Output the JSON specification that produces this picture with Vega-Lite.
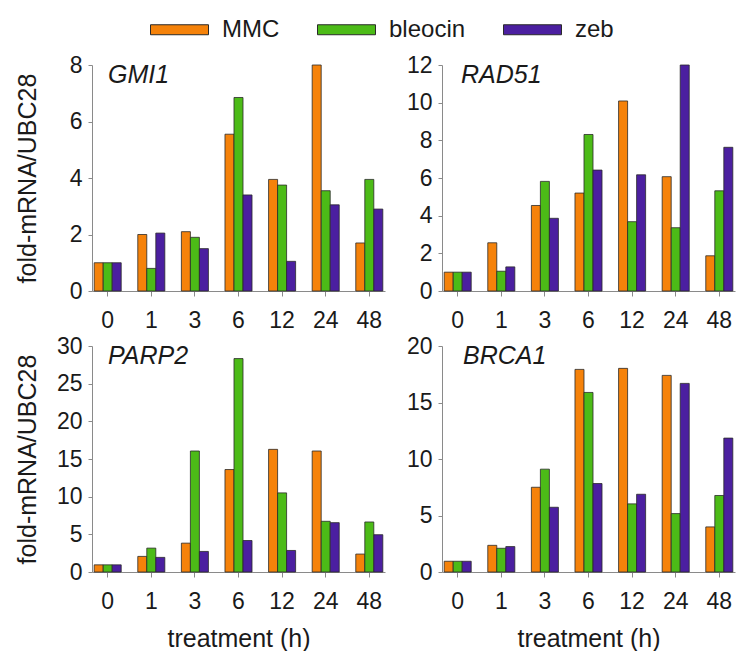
{
  "$schema": "https://vega.github.io/schema/vega-lite/v6.json",
  "background": "white",
  "padding": {"left": 15, "top": 0, "right": 5, "bottom": 0},
  "config": {
    "view": {"stroke": null},
    "font": "Liberation Sans",
    "axis": {
      "grid": false,
      "domainColor": "#8a8a8a",
      "tickColor": "#8a8a8a",
      "labelColor": "#1a1a1a",
      "titleColor": "#1a1a1a",
      "labelFontSize": 23,
      "titleFontSize": 25,
      "titleFontWeight": "normal",
      "labelFont": "Liberation Sans",
      "titleFont": "Liberation Sans"
    },
    "axisX": {"tickSize": 5, "labelPadding": 13, "labelAngle": 0, "titlePadding": 13},
    "axisY": {"tickSize": 4, "labelPadding": 6},
    "title": {"font": "Liberation Sans"}
  },
  "datasets": {
    "expr": [
      {"gene": "GMI1", "time": "0", "treatment": "MMC", "value": 1.0},
      {"gene": "GMI1", "time": "0", "treatment": "bleocin", "value": 1.0},
      {"gene": "GMI1", "time": "0", "treatment": "zeb", "value": 1.0},
      {"gene": "GMI1", "time": "1", "treatment": "MMC", "value": 2.0},
      {"gene": "GMI1", "time": "1", "treatment": "bleocin", "value": 0.8},
      {"gene": "GMI1", "time": "1", "treatment": "zeb", "value": 2.05},
      {"gene": "GMI1", "time": "3", "treatment": "MMC", "value": 2.1},
      {"gene": "GMI1", "time": "3", "treatment": "bleocin", "value": 1.9},
      {"gene": "GMI1", "time": "3", "treatment": "zeb", "value": 1.5},
      {"gene": "GMI1", "time": "6", "treatment": "MMC", "value": 5.55},
      {"gene": "GMI1", "time": "6", "treatment": "bleocin", "value": 6.85},
      {"gene": "GMI1", "time": "6", "treatment": "zeb", "value": 3.4},
      {"gene": "GMI1", "time": "12", "treatment": "MMC", "value": 3.95},
      {"gene": "GMI1", "time": "12", "treatment": "bleocin", "value": 3.75},
      {"gene": "GMI1", "time": "12", "treatment": "zeb", "value": 1.05},
      {"gene": "GMI1", "time": "24", "treatment": "MMC", "value": 8.0},
      {"gene": "GMI1", "time": "24", "treatment": "bleocin", "value": 3.55},
      {"gene": "GMI1", "time": "24", "treatment": "zeb", "value": 3.05},
      {"gene": "GMI1", "time": "48", "treatment": "MMC", "value": 1.7},
      {"gene": "GMI1", "time": "48", "treatment": "bleocin", "value": 3.95},
      {"gene": "GMI1", "time": "48", "treatment": "zeb", "value": 2.9},
      {"gene": "RAD51", "time": "0", "treatment": "MMC", "value": 1.0},
      {"gene": "RAD51", "time": "0", "treatment": "bleocin", "value": 1.0},
      {"gene": "RAD51", "time": "0", "treatment": "zeb", "value": 1.0},
      {"gene": "RAD51", "time": "1", "treatment": "MMC", "value": 2.56},
      {"gene": "RAD51", "time": "1", "treatment": "bleocin", "value": 1.05},
      {"gene": "RAD51", "time": "1", "treatment": "zeb", "value": 1.28},
      {"gene": "RAD51", "time": "3", "treatment": "MMC", "value": 4.54},
      {"gene": "RAD51", "time": "3", "treatment": "bleocin", "value": 5.82},
      {"gene": "RAD51", "time": "3", "treatment": "zeb", "value": 3.86},
      {"gene": "RAD51", "time": "6", "treatment": "MMC", "value": 5.2},
      {"gene": "RAD51", "time": "6", "treatment": "bleocin", "value": 8.31},
      {"gene": "RAD51", "time": "6", "treatment": "zeb", "value": 6.42},
      {"gene": "RAD51", "time": "12", "treatment": "MMC", "value": 10.09},
      {"gene": "RAD51", "time": "12", "treatment": "bleocin", "value": 3.68},
      {"gene": "RAD51", "time": "12", "treatment": "zeb", "value": 6.17},
      {"gene": "RAD51", "time": "24", "treatment": "MMC", "value": 6.07},
      {"gene": "RAD51", "time": "24", "treatment": "bleocin", "value": 3.36},
      {"gene": "RAD51", "time": "24", "treatment": "zeb", "value": 12.0},
      {"gene": "RAD51", "time": "48", "treatment": "MMC", "value": 1.87},
      {"gene": "RAD51", "time": "48", "treatment": "bleocin", "value": 5.32},
      {"gene": "RAD51", "time": "48", "treatment": "zeb", "value": 7.63},
      {"gene": "PARP2", "time": "0", "treatment": "MMC", "value": 0.95},
      {"gene": "PARP2", "time": "0", "treatment": "bleocin", "value": 0.95},
      {"gene": "PARP2", "time": "0", "treatment": "zeb", "value": 0.95},
      {"gene": "PARP2", "time": "1", "treatment": "MMC", "value": 2.07},
      {"gene": "PARP2", "time": "1", "treatment": "bleocin", "value": 3.17},
      {"gene": "PARP2", "time": "1", "treatment": "zeb", "value": 1.94},
      {"gene": "PARP2", "time": "3", "treatment": "MMC", "value": 3.83},
      {"gene": "PARP2", "time": "3", "treatment": "bleocin", "value": 16.06},
      {"gene": "PARP2", "time": "3", "treatment": "zeb", "value": 2.73},
      {"gene": "PARP2", "time": "6", "treatment": "MMC", "value": 13.6},
      {"gene": "PARP2", "time": "6", "treatment": "bleocin", "value": 28.33},
      {"gene": "PARP2", "time": "6", "treatment": "zeb", "value": 4.18},
      {"gene": "PARP2", "time": "12", "treatment": "MMC", "value": 16.28},
      {"gene": "PARP2", "time": "12", "treatment": "bleocin", "value": 10.5},
      {"gene": "PARP2", "time": "12", "treatment": "zeb", "value": 2.86},
      {"gene": "PARP2", "time": "24", "treatment": "MMC", "value": 16.06},
      {"gene": "PARP2", "time": "24", "treatment": "bleocin", "value": 6.73},
      {"gene": "PARP2", "time": "24", "treatment": "zeb", "value": 6.55},
      {"gene": "PARP2", "time": "48", "treatment": "MMC", "value": 2.38},
      {"gene": "PARP2", "time": "48", "treatment": "bleocin", "value": 6.64},
      {"gene": "PARP2", "time": "48", "treatment": "zeb", "value": 4.95},
      {"gene": "BRCA1", "time": "0", "treatment": "MMC", "value": 0.95},
      {"gene": "BRCA1", "time": "0", "treatment": "bleocin", "value": 0.95},
      {"gene": "BRCA1", "time": "0", "treatment": "zeb", "value": 0.95},
      {"gene": "BRCA1", "time": "1", "treatment": "MMC", "value": 2.36},
      {"gene": "BRCA1", "time": "1", "treatment": "bleocin", "value": 2.1},
      {"gene": "BRCA1", "time": "1", "treatment": "zeb", "value": 2.25},
      {"gene": "BRCA1", "time": "3", "treatment": "MMC", "value": 7.5},
      {"gene": "BRCA1", "time": "3", "treatment": "bleocin", "value": 9.1},
      {"gene": "BRCA1", "time": "3", "treatment": "zeb", "value": 5.73},
      {"gene": "BRCA1", "time": "6", "treatment": "MMC", "value": 17.93},
      {"gene": "BRCA1", "time": "6", "treatment": "bleocin", "value": 15.89},
      {"gene": "BRCA1", "time": "6", "treatment": "zeb", "value": 7.83},
      {"gene": "BRCA1", "time": "12", "treatment": "MMC", "value": 18.02},
      {"gene": "BRCA1", "time": "12", "treatment": "bleocin", "value": 6.03},
      {"gene": "BRCA1", "time": "12", "treatment": "zeb", "value": 6.88},
      {"gene": "BRCA1", "time": "24", "treatment": "MMC", "value": 17.4},
      {"gene": "BRCA1", "time": "24", "treatment": "bleocin", "value": 5.17},
      {"gene": "BRCA1", "time": "24", "treatment": "zeb", "value": 16.69},
      {"gene": "BRCA1", "time": "48", "treatment": "MMC", "value": 3.99},
      {"gene": "BRCA1", "time": "48", "treatment": "bleocin", "value": 6.77},
      {"gene": "BRCA1", "time": "48", "treatment": "zeb", "value": 11.85}
    ]
  },
  "data": {"name": "expr"},
  "columns": 2,
  "spacing": {"row": 3, "column": 21},
  "concat": [
    {
      "width": 293, "height": 226,
      "title": {"text": "GMI1", "anchor": "start", "frame": "group", "fontStyle": "italic", "fontWeight": "normal", "fontSize": 25, "color": "#1a1a1a", "offset": -34, "dx": 16},
      "transform": [{"filter": "datum.gene === 'GMI1'"}],
      "mark": {"type": "bar", "stroke": "#2a2a2a", "strokeWidth": 0.8},
      "encoding": {
        "x": {"field": "time", "type": "ordinal", "sort": ["0", "1", "3", "6", "12", "24", "48"], "scale": {"paddingInner": 0.38, "paddingOuter": 0.05}, "axis": {"title": null}},
        "xOffset": {"field": "treatment", "sort": ["MMC", "bleocin", "zeb"]},
        "y": {"field": "value", "type": "quantitative", "scale": {"domain": [0, 8], "nice": false}, "axis": {"values": [0, 2, 4, 6, 8], "title": "fold-mRNA/UBC28", "titlePadding": 29}},
        "color": {"field": "treatment", "type": "nominal", "sort": ["MMC", "bleocin", "zeb"],
          "scale": {"domain": ["MMC", "bleocin", "zeb"], "range": ["#F5820A", "#4CBB17", "#4B1FA0"]},
          "legend": {"orient": "none", "legendX": 58, "legendY": -65, "direction": "horizontal", "title": null,
            "symbolType": "M-1,-0.172H1V0.172H-1Z", "symbolSize": 3364, "symbolStrokeColor": "#333", "symbolStrokeWidth": 1,
            "labelFontSize": 24, "labelFont": "Liberation Sans", "labelColor": "#1a1a1a", "labelOffset": 13, "columnPadding": 35}}
      }
    },
    {
      "width": 293, "height": 226,
      "title": {"text": "RAD51", "anchor": "start", "frame": "group", "fontStyle": "italic", "fontWeight": "normal", "fontSize": 25, "color": "#1a1a1a", "offset": -34, "dx": 19},
      "transform": [{"filter": "datum.gene === 'RAD51'"}],
      "mark": {"type": "bar", "stroke": "#2a2a2a", "strokeWidth": 0.8},
      "encoding": {
        "x": {"field": "time", "type": "ordinal", "sort": ["0", "1", "3", "6", "12", "24", "48"], "scale": {"paddingInner": 0.38, "paddingOuter": 0.05}, "axis": {"title": null}},
        "xOffset": {"field": "treatment", "sort": ["MMC", "bleocin", "zeb"]},
        "y": {"field": "value", "type": "quantitative", "scale": {"domain": [0, 12], "nice": false}, "axis": {"values": [0, 2, 4, 6, 8, 10, 12], "title": null}},
        "color": {"field": "treatment", "type": "nominal", "sort": ["MMC", "bleocin", "zeb"]}
      }
    },
    {
      "width": 293, "height": 226,
      "title": {"text": "PARP2", "anchor": "start", "frame": "group", "fontStyle": "italic", "fontWeight": "normal", "fontSize": 25, "color": "#1a1a1a", "offset": -34, "dx": 16},
      "transform": [{"filter": "datum.gene === 'PARP2'"}],
      "mark": {"type": "bar", "stroke": "#2a2a2a", "strokeWidth": 0.8},
      "encoding": {
        "x": {"field": "time", "type": "ordinal", "sort": ["0", "1", "3", "6", "12", "24", "48"], "scale": {"paddingInner": 0.38, "paddingOuter": 0.05}, "axis": {"title": "treatment (h)"}},
        "xOffset": {"field": "treatment", "sort": ["MMC", "bleocin", "zeb"]},
        "y": {"field": "value", "type": "quantitative", "scale": {"domain": [0, 30], "nice": false}, "axis": {"values": [0, 5, 10, 15, 20, 25, 30], "title": "fold-mRNA/UBC28", "titlePadding": 16}},
        "color": {"field": "treatment", "type": "nominal", "sort": ["MMC", "bleocin", "zeb"]}
      }
    },
    {
      "width": 293, "height": 226,
      "title": {"text": "BRCA1", "anchor": "start", "frame": "group", "fontStyle": "italic", "fontWeight": "normal", "fontSize": 25, "color": "#1a1a1a", "offset": -34, "dx": 21},
      "transform": [{"filter": "datum.gene === 'BRCA1'"}],
      "mark": {"type": "bar", "stroke": "#2a2a2a", "strokeWidth": 0.8},
      "encoding": {
        "x": {"field": "time", "type": "ordinal", "sort": ["0", "1", "3", "6", "12", "24", "48"], "scale": {"paddingInner": 0.38, "paddingOuter": 0.05}, "axis": {"title": "treatment (h)"}},
        "xOffset": {"field": "treatment", "sort": ["MMC", "bleocin", "zeb"]},
        "y": {"field": "value", "type": "quantitative", "scale": {"domain": [0, 20], "nice": false}, "axis": {"values": [0, 5, 10, 15, 20], "title": null}},
        "color": {"field": "treatment", "type": "nominal", "sort": ["MMC", "bleocin", "zeb"]}
      }
    }
  ]
}
